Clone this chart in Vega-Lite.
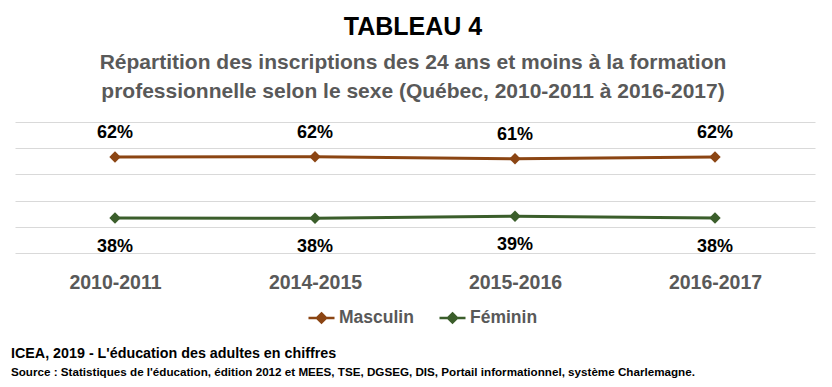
{
  "$schema": "https://vega.github.io/schema/vega-lite/v6.json",
  "background": "white",
  "padding": {"left": 11, "right": 17, "top": 14, "bottom": 5},
  "config": {"view": {"stroke": null}, "font": "Liberation Sans"},
  "title": {
    "text": "TABLEAU 4",
    "subtitle": ["Répartition des inscriptions des 24 ans et moins à la formation", "professionnelle selon le sexe (Québec, 2010-2011 à 2016-2017)"],
    "anchor": "middle",
    "font": "Liberation Sans",
    "fontSize": 25,
    "fontWeight": "bold",
    "color": "#000000",
    "subtitleFont": "Liberation Sans",
    "subtitleFontSize": 21,
    "subtitleFontWeight": "bold",
    "subtitleColor": "#595959",
    "subtitleLineHeight": 29,
    "subtitlePadding": 12,
    "offset": 20.5
  },
  "resolve": {"legend": {"color": "independent"}},
  "vconcat": [
    {
      "width": 800,
      "height": 131,
      "title": {
        "text": "ICEA, 2019 - L'éducation des adultes en chiffres",
        "subtitle": "Source : Statistiques de l'éducation, édition 2012 et MEES, TSE, DGSEG, DIS, Portail informationnel,  système Charlemagne.",
        "orient": "bottom",
        "anchor": "start",
        "frame": "group",
        "dx": -4,
        "font": "Liberation Sans",
        "fontSize": 14.3,
        "fontWeight": "bold",
        "color": "#000000",
        "subtitleFont": "Liberation Sans",
        "subtitleFontSize": 11.65,
        "subtitleFontWeight": "bold",
        "subtitleColor": "#000000",
        "subtitlePadding": 6,
        "offset": 19
      },
      "data": {
        "values": [
          {"annee": "2010-2011", "sexe": "Masculin", "valeur": 0.621},
          {"annee": "2014-2015", "sexe": "Masculin", "valeur": 0.622},
          {"annee": "2015-2016", "sexe": "Masculin", "valeur": 0.614},
          {"annee": "2016-2017", "sexe": "Masculin", "valeur": 0.621},
          {"annee": "2010-2011", "sexe": "Féminin", "valeur": 0.379},
          {"annee": "2014-2015", "sexe": "Féminin", "valeur": 0.378},
          {"annee": "2015-2016", "sexe": "Féminin", "valeur": 0.386},
          {"annee": "2016-2017", "sexe": "Féminin", "valeur": 0.379}
        ]
      },
      "encoding": {
        "x": {
          "field": "annee",
          "type": "ordinal",
          "sort": null,
          "scale": {"type": "point", "padding": 0.5},
          "axis": {
            "title": null,
            "domain": false,
            "ticks": false,
            "grid": false,
            "labelAngle": 0,
            "labelFont": "Liberation Sans",
            "labelFontSize": 19.5,
            "labelFontWeight": "bold",
            "labelColor": "#595959",
            "labelPadding": 20
          }
        },
        "y": {
          "field": "valeur",
          "type": "quantitative",
          "scale": {"domain": [0.24, 0.76], "zero": false, "nice": false},
          "axis": {
            "title": null,
            "labels": false,
            "ticks": false,
            "domain": false,
            "grid": true,
            "gridColor": "#D9D9D9",
            "gridWidth": 1,
            "values": [0.24, 0.344, 0.448, 0.552, 0.656, 0.76]
          }
        }
      },
      "layer": [
        {
          "mark": {"type": "line", "strokeWidth": 3},
          "encoding": {
            "color": {
              "field": "sexe",
              "type": "nominal",
              "scale": {"domain": ["Masculin", "Féminin"], "range": ["#8B4513", "#3B5E2B"]},
              "legend": {
                "orient": "none",
                "legendX": 292,
                "legendY": 181,
                "direction": "horizontal",
                "title": null,
                "symbolType": "M-1,0H1M0,-0.35L0.35,0L0,0.35L-0.35,0Z",
                "symbolSize": 676,
                "symbolStrokeWidth": 2.5,
                "labelFont": "Liberation Sans",
                "labelFontSize": 17.5,
                "labelFontWeight": "bold",
                "labelColor": "#595959",
                "labelOffset": 3,
                "columnPadding": 20
              }
            }
          }
        },
        {
          "mark": {"type": "point", "shape": "diamond", "filled": true, "size": 130, "opacity": 1},
          "encoding": {
            "color": {"field": "sexe", "type": "nominal"}
          }
        },
        {
          "transform": [{"filter": "datum.sexe === 'Masculin'"}],
          "mark": {"type": "text", "dy": -24, "font": "Liberation Sans", "fontSize": 18, "fontWeight": "bold", "color": "#000000"},
          "encoding": {"text": {"field": "valeur", "type": "quantitative", "format": ".0%"}}
        },
        {
          "transform": [{"filter": "datum.sexe === 'Féminin'"}],
          "mark": {"type": "text", "dy": 29, "font": "Liberation Sans", "fontSize": 18, "fontWeight": "bold", "color": "#000000"},
          "encoding": {"text": {"field": "valeur", "type": "quantitative", "format": ".0%"}}
        }
      ]
    }
  ]
}
